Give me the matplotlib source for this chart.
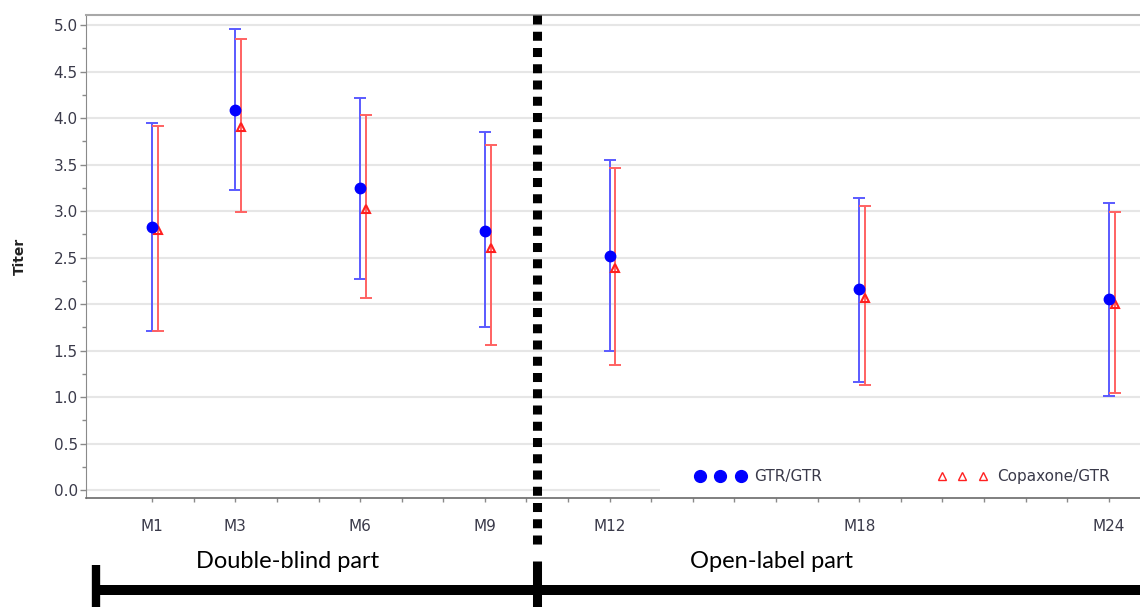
import numpy as np
import matplotlib
matplotlib.use("Agg")
import matplotlib.pyplot as plt
from matplotlib.lines import Line2D
from matplotlib.patches import Rectangle

# 数据
visits = ["M1", "M3", "M6", "M9", "M12", "M18", "M24"]
months = [1, 3, 6, 9, 12, 18, 24]
gtr_mean = [2.83, 4.09, 3.25, 2.78, 2.52, 2.16, 2.05]
gtr_low = [1.71, 3.23, 2.27, 1.75, 1.49, 1.16, 1.01]
gtr_high = [3.95, 4.96, 4.22, 3.85, 3.55, 3.14, 3.09]
cop_mean = [2.80, 3.90, 3.02, 2.60, 2.39, 2.06, 2.00]
cop_low = [1.71, 2.99, 2.06, 1.56, 1.34, 1.13, 1.04]
cop_high = [3.91, 4.85, 4.03, 3.71, 3.46, 3.05, 2.99]

# 样式
tick_color = "#3a3a4a"
spine_color = "#8a8a8a"
font_size = 11
shift = 0.14  # 红色系列向右偏移（月）

fig = plt.figure(figsize=(11.4, 6.07), dpi=100)
ax = fig.add_axes([86 / 1140, 1 - 498 / 607, 1 - 86 / 1140, (498 - 15) / 607])

x = np.array(months, dtype=float)
g_err = [np.array(gtr_mean) - np.array(gtr_low), np.array(gtr_high) - np.array(gtr_mean)]
c_err = [np.array(cop_mean) - np.array(cop_low), np.array(cop_high) - np.array(cop_mean)]

ax.errorbar(x, gtr_mean, yerr=g_err, fmt="none", ecolor="#5a5aff", elinewidth=1.4,
            capsize=4.2, capthick=1.4, zorder=3)
ax.errorbar(x + shift, cop_mean, yerr=c_err, fmt="none", ecolor="#ff6262", elinewidth=1.4,
            capsize=4.2, capthick=1.4, zorder=3)
ax.plot(x, gtr_mean, ls="none", marker="o", ms=7.5, color="#0000ff", zorder=5)
ax.plot(x + shift, cop_mean, ls="none", marker="^", ms=6, mfc="none", mec="#ff2020",
        mew=1.5, zorder=4)

ax.set_xlim(-0.59, 24.75)
ax.set_ylim(-0.086, 5.108)
ax.set_yticks(np.arange(0, 5.01, 0.5))
ax.set_yticks(np.arange(0, 5.01, 0.25), minor=True)
ax.set_yticklabels([f"{v:.1f}" for v in np.arange(0, 5.01, 0.5)])
ax.set_xticks(months)
ax.set_xticklabels(visits)
ax.set_xticks(np.arange(1, 25), minor=True)

ax.grid(axis="y", color="#e6e6e6", lw=1.5)
ax.set_axisbelow(True)
ax.tick_params(axis="y", which="major", length=4, width=1, color=spine_color, pad=2,
               labelsize=font_size, labelcolor=tick_color)
ax.tick_params(axis="y", which="minor", length=3, width=1, color=spine_color)
ax.tick_params(axis="x", which="major", length=3, width=1, color=spine_color, pad=12,
               labelsize=font_size, labelcolor=tick_color)
ax.tick_params(axis="x", which="minor", length=3, width=1, color=spine_color)

ax.spines["right"].set_visible(False)
ax.spines["top"].set_color("#a8a8a8")
ax.spines["top"].set_linewidth(1.5)
ax.spines["left"].set_color(spine_color)
ax.spines["bottom"].set_color("#6a6a6a")
ax.spines["bottom"].set_linewidth(1.2)

ax.set_ylabel("Titer", fontsize=10, fontweight="bold", color="#222222", labelpad=19)

# 图例底色（遮住网格线）
ax.add_patch(Rectangle(((660 - 86) / 1054, 0.0), 1.0, 0.09, transform=ax.transAxes,
                       facecolor="white", edgecolor="none", zorder=1))
handles = [
    Line2D([], [], ls="none", marker="o", ms=8.5, color="#0000ff"),
    Line2D([], [], ls="none", marker="^", ms=6, mfc="none", mec="#ff2020", mew=1.0),
]
ax.legend(handles, ["GTR/GTR", "Copaxone/GTR"], loc="center left",
          bbox_to_anchor=((695 - 86) / 1054, 0.044), ncol=2, numpoints=3,
          handlelength=3.3, handletextpad=0.6, columnspacing=7.5, borderpad=0,
          borderaxespad=0, frameon=False, fontsize=font_size, labelcolor=tick_color)

# 分隔线与分段标注
divider_x = 536.5 / 1140
fig.add_artist(Line2D([divider_x, divider_x], [1 - 15 / 607, 1 - 550 / 607],
                      transform=fig.transFigure, color="black", lw=6.5,
                      ls=(0, (1, 0.8)), solid_capstyle="butt", dash_capstyle="butt"))
fig.add_artist(Line2D([divider_x, divider_x], [1 - 561 / 607, 0],
                      transform=fig.transFigure, color="black", lw=6.5,
                      solid_capstyle="butt"))
fig.add_artist(Line2D([95.5 / 1140, 95.5 / 1140], [1 - 565 / 607, 0],
                      transform=fig.transFigure, color="black", lw=6, solid_capstyle="butt"))
fig.add_artist(Line2D([92 / 1140, 1.0], [1 - 590 / 607, 1 - 590 / 607],
                      transform=fig.transFigure, color="black", lw=7.2, solid_capstyle="butt"))

fig.text(288 / 1140, 1 - 562 / 607, "Double-blind part", ha="center", va="center",
         fontsize=17, family="Lato", color="black")
fig.text(772 / 1140, 1 - 562 / 607, "Open-label part", ha="center", va="center",
         fontsize=17, family="Lato", color="black")

fig.savefig("out.png", dpi=100)
